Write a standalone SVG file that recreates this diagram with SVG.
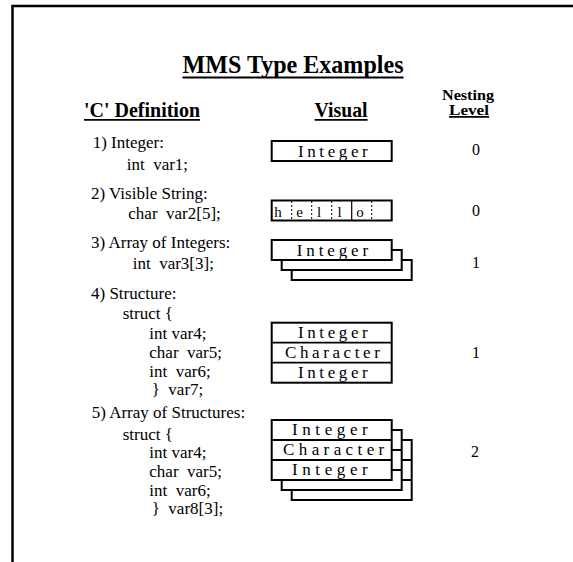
<svg xmlns="http://www.w3.org/2000/svg" width="573" height="562" viewBox="0 0 573 562" font-family="'Liberation Serif', 'Times New Roman', Times, serif">
<style>
text{font-family:'Liberation Serif','Times New Roman',Times,serif;fill:#000;white-space:pre}
.h{font-weight:bold}
.t{font-size:17px}
.b{font-size:17px}
.box{fill:#fff;stroke:#000;stroke-width:2}
.ln{stroke:#000;stroke-width:1.8;fill:none}
.dv{stroke:#000;stroke-width:1;stroke-dasharray:2,2}
.sv{stroke:#000;stroke-width:1.2}
.n{font-size:16px;text-anchor:middle}
</style>
<rect width="573" height="562" fill="#fff"/>
<path d="M12.5 570 V6 H580" fill="none" stroke="#000" stroke-width="2.5"/>

<g id="headers">
<text class="h" x="182.5" y="73" font-size="26" textLength="221" lengthAdjust="spacingAndGlyphs">MMS Type Examples</text>
<line class="ln" x1="182.5" y1="77.5" x2="403.5" y2="77.5"/>
<text class="h" x="84" y="117" font-size="21" textLength="116" lengthAdjust="spacingAndGlyphs">'C' Definition</text>
<line class="ln" x1="84" y1="119.8" x2="200" y2="119.8" stroke-width="1.5"/>
<text class="h" x="314.6" y="117" font-size="21" textLength="53" lengthAdjust="spacingAndGlyphs">Visual</text>
<line class="ln" x1="314.6" y1="119.8" x2="367.6" y2="119.8" stroke-width="1.5"/>
<text class="h" x="442" y="100" font-size="14.5" textLength="52" lengthAdjust="spacingAndGlyphs">Nesting</text>
<text class="h" x="449" y="114.8" font-size="14.5" textLength="40" lengthAdjust="spacingAndGlyphs">Level</text>
<line class="ln" x1="449" y1="116.8" x2="489" y2="116.8" stroke-width="1.3"/>
</g>

<g id="def1">
<text class="t" x="92.7" y="148">1) Integer:</text>
<text class="t" x="126.7" y="170">int  var1;</text>
</g>
<g id="def2">
<text class="t" x="91" y="199">2) Visible String:</text>
<text class="t" x="128.3" y="219.3">char  var2[5];</text>
</g>
<g id="def3">
<text class="t" x="91" y="248.3">3) Array of Integers:</text>
<text class="t" x="132.7" y="269.3">int  var3[3];</text>
</g>
<g id="def4">
<text class="t" x="91" y="299">4) Structure:</text>
<text class="t" x="122.7" y="319.3">struct {</text>
<text class="t" x="149.3" y="339">int var4;</text>
<text class="t" x="149.3" y="358.3">char  var5;</text>
<text class="t" x="149.3" y="377">int  var6;</text>
<text class="t" x="151.7" y="395.3">}  var7;</text>
</g>
<g id="def5">
<text class="t" x="91.7" y="418.3">5) Array of Structures:</text>
<text class="t" x="122.7" y="440">struct {</text>
<text class="t" x="149.3" y="458">int var4;</text>
<text class="t" x="149.3" y="477">char  var5;</text>
<text class="t" x="149.3" y="495.5">int  var6;</text>
<text class="t" x="151.7" y="514">}  var8[3];</text>
</g>

<g id="vis1">
<rect class="box" x="271.7" y="141" width="120" height="20"/>
<text class="b" x="298" y="156.6" letter-spacing="3.6">Integer</text>
</g>
<g id="vis2">
<rect class="box" x="271.7" y="200.5" width="120" height="20"/>
<line class="dv" x1="291.7" y1="201" x2="291.7" y2="220"/>
<line class="dv" x1="311.7" y1="201" x2="311.7" y2="220"/>
<line class="dv" x1="331.7" y1="201" x2="331.7" y2="220"/>
<line class="sv" x1="351.7" y1="201" x2="351.7" y2="220"/>
<line class="dv" x1="371.7" y1="201" x2="371.7" y2="220"/>
<g font-size="15" text-anchor="middle">
<text x="278" y="216.5">h</text>
<text x="299.5" y="216.5">e</text>
<text x="319" y="216.5">l</text>
<text x="339.5" y="216.5">l</text>
<text x="360" y="216.5">o</text>
</g>
</g>
<g id="vis3">
<rect class="box" x="291.7" y="260" width="120" height="20"/>
<rect class="box" x="281.7" y="250" width="120" height="20"/>
<rect class="box" x="271.7" y="240" width="120" height="20"/>
<text class="b" x="296.7" y="256" letter-spacing="3.9">Integer</text>
</g>
<g id="vis4">
<rect class="box" x="271.7" y="322.7" width="120" height="60"/>
<line class="ln" x1="271.7" y1="342.7" x2="391.7" y2="342.7"/>
<line class="ln" x1="271.7" y1="362.7" x2="391.7" y2="362.7"/>
<text class="b" x="298" y="337.5" letter-spacing="3.6">Integer</text>
<text class="b" x="285" y="357.5" letter-spacing="3.6">Character</text>
<text class="b" x="298" y="377.5" letter-spacing="3.6">Integer</text>
</g>
<g id="vis5">
<rect class="box" x="291.7" y="440" width="120" height="60"/>
<line class="ln" x1="291.7" y1="460" x2="411.7" y2="460"/>
<line class="ln" x1="291.7" y1="480" x2="411.7" y2="480"/>
<rect class="box" x="281.7" y="430" width="120" height="60"/>
<line class="ln" x1="281.7" y1="450" x2="401.7" y2="450"/>
<line class="ln" x1="281.7" y1="470" x2="401.7" y2="470"/>
<rect class="box" x="271.7" y="420" width="120" height="60"/>
<line class="ln" x1="271.7" y1="440" x2="391.7" y2="440"/>
<line class="ln" x1="271.7" y1="460" x2="391.7" y2="460"/>
<text class="b" x="292" y="435" letter-spacing="4.6">Integer</text>
<text class="b" x="283" y="455" letter-spacing="4.4">Character</text>
<text class="b" x="292" y="475" letter-spacing="4.6">Integer</text>
</g>

<g id="nesting">
<text class="n" x="476" y="155">0</text>
<text class="n" x="476" y="216">0</text>
<text class="n" x="476" y="268">1</text>
<text class="n" x="476" y="358">1</text>
<text class="n" x="475" y="457">2</text>
</g>
</svg>
